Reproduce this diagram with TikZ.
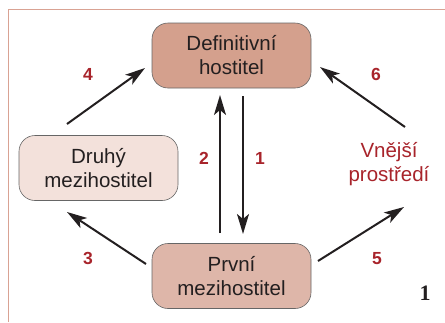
\documentclass[tikz,border=0pt]{standalone}
\usepackage{fontspec}
\setmainfont{Liberation Sans}
\newfontfamily\serifnum{Liberation Serif}
\usetikzlibrary{arrows.meta}
\definecolor{frame}{HTML}{D9A293}
\definecolor{boxA}{HTML}{D4A08D}
\definecolor{boxB}{HTML}{F3E1DB}
\definecolor{boxC}{HTML}{DEB6A9}
\definecolor{lbl}{HTML}{A8242B}
\definecolor{txt}{HTML}{231F20}
\tikzset{
  hostbox/.style={draw=black!60, line width=0.6pt, rounded corners=16pt, minimum width=159pt, minimum height=65pt, align=center, font=\fontsize{20.5}{24}\selectfont, text=txt, inner sep=0pt},
  arr/.style={line width=2pt, draw=txt, -{Stealth[length=20pt,width=12pt,inset=5pt]}},
  num/.style={text=lbl, font=\fontsize{17.5}{18}\selectfont\bfseries, inner sep=0pt}
}
\begin{document}
\begin{tikzpicture}[x=1pt,y=-1pt]
\useasboundingbox (0,0) rectangle (445,322);
\draw[frame, line width=1pt] (8.5,322) -- (8.5,9.5) -- (445,9.5);
\node[hostbox, fill=boxA] (def) at (231.5,55.5) {Definitivní\\hostitel};
\node[hostbox, fill=boxB] (druhy) at (98.5,168) {Druhý\\mezihostitel};
\node[hostbox, fill=boxC] (prvni) at (231.5,276) {První\\mezihostitel};
\node[text=lbl, align=center, font=\fontsize{20.5}{24}\selectfont, inner sep=0pt] (vnej) at (389,164) {Vnější\\prostředí};
\coordinate (a4s) at (67,124); \coordinate (a4e) at (145,68);
\coordinate (a6s) at (405,127); \coordinate (a6e) at (320,67);
\coordinate (a3s) at (146,264); \coordinate (a3e) at (67,212);
\coordinate (a5s) at (318,261); \coordinate (a5e) at (404,207);
\coordinate (a2s) at (220,233); \coordinate (a2e) at (220,95);
\coordinate (a1s) at (243,96); \coordinate (a1e) at (243,234);
\draw[arr] (a4s) -- (a4e);
\draw[arr] (a6s) -- (a6e);
\draw[arr] (a3s) -- (a3e);
\draw[arr] (a5s) -- (a5e);
\draw[arr] (a2s) -- (a2e);
\draw[arr] (a1s) -- (a1e);
\node[num] (n4) at (88,74) {4};
\node[num] (n6) at (376,74) {6};
\node[num] (n2) at (204,158) {2};
\node[num] (n1) at (260,158) {1};
\node[num] (n3) at (88,258) {3};
\node[num] (n5) at (377,259) {5};
\node[text=txt, font=\serifnum\fontsize{22}{24}\selectfont\bfseries, inner sep=0pt] (fig) at (425,293) {1};
\end{tikzpicture}
\end{document}
